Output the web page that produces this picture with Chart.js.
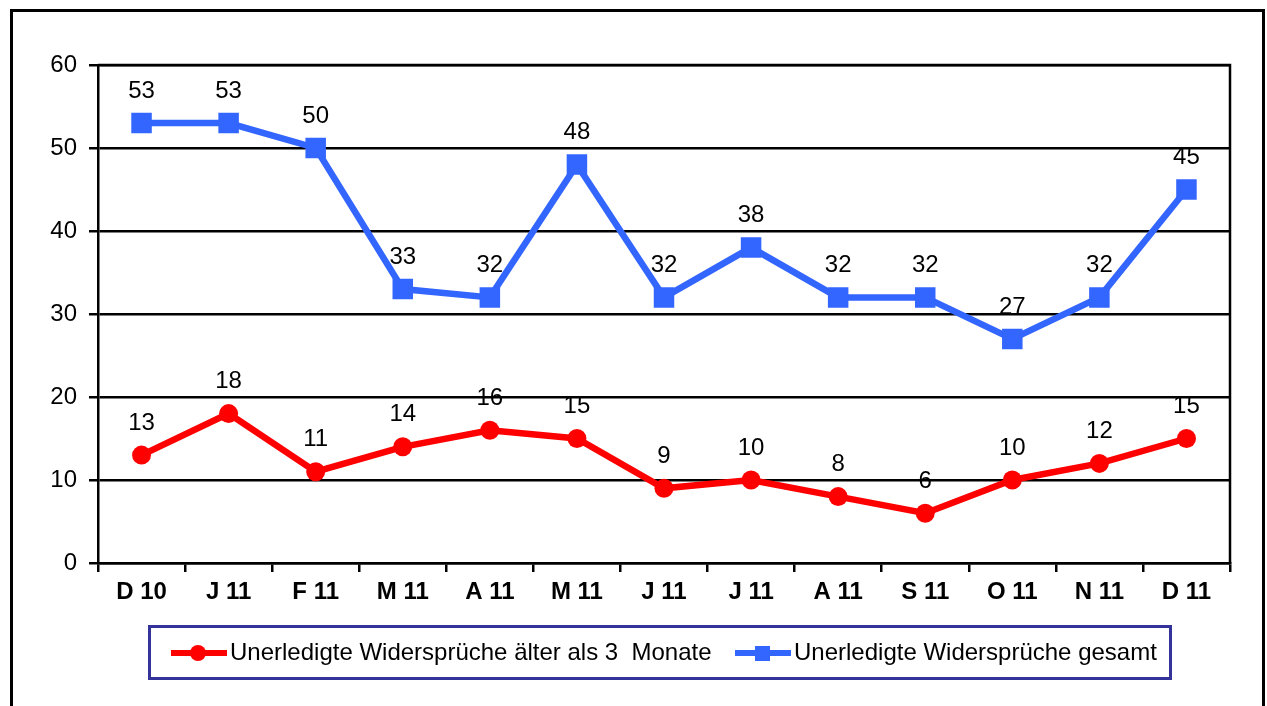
<!DOCTYPE html>
<html>
<head>
<meta charset="utf-8">
<script src="https://cdn.jsdelivr.net/npm/chart.js@4/dist/chart.umd.min.js"></script>
<style>
  html, body { margin: 0; padding: 0; background: #fff; }
  #wrap { width: 1267px; height: 706px; position: relative; }
</style>
</head>
<body>
<div id="wrap"><canvas id="chart" width="1267" height="706"></canvas></div>
<script>
// data
const months = ["D 10", "J 11", "F 11", "M 11", "A 11", "M 11", "J 11", "J 11", "A 11", "S 11", "O 11", "N 11", "D 11"];
const olderThan3 = [13, 18, 11, 14, 16, 15, 9, 10, 8, 6, 10, 12, 15];
const total = [53, 53, 50, 33, 32, 48, 32, 38, 32, 32, 27, 32, 45];
const yTicks = [0, 10, 20, 30, 40, 50, 60];

const FONT = "'Liberation Sans', Arial, sans-serif";

// frame, plot border, value labels and legend box
const decorations = {
  id: "decorations",
  beforeDraw(chart) {
    const ctx = chart.ctx;
    ctx.save();
    ctx.fillStyle = "#fff";
    ctx.fillRect(0, 0, chart.width, chart.height);
    ctx.restore();
  },
  afterDatasetsDraw(chart) {
    const ctx = chart.ctx;
    const a = chart.chartArea;
    ctx.save();
    // plot border (top + right)
    ctx.strokeStyle = "#000";
    ctx.lineWidth = 2.5;
    ctx.beginPath();
    ctx.moveTo(a.left, a.top);
    ctx.lineTo(a.right, a.top);
    ctx.lineTo(a.right, a.bottom);
    ctx.stroke();

    // value labels
    ctx.fillStyle = "#000";
    ctx.font = "24px " + FONT;
    ctx.textAlign = "center";
    ctx.textBaseline = "middle";
    chart.data.datasets.forEach((ds, i) => {
      const meta = chart.getDatasetMeta(i);
      meta.data.forEach((pt, j) => {
        ctx.fillText(String(ds.data[j]), pt.x, pt.y - 32);
      });
    });

    // outer frame
    ctx.lineWidth = 3;
    ctx.strokeRect(11.5, 10.5, 1252, 720);

    // legend
    ctx.strokeStyle = "#333399";
    ctx.lineWidth = 3;
    ctx.strokeRect(149.5, 626.5, 1021, 52);
    const items = [
      { x: 171, ds: chart.data.datasets[0], text: "Unerledigte Widersprüche älter als 3  Monate" },
      { x: 735, ds: chart.data.datasets[1], text: "Unerledigte Widersprüche gesamt" }
    ];
    items.forEach(it => {
      const y = 653;
      ctx.strokeStyle = it.ds.borderColor;
      ctx.lineWidth = 6;
      ctx.beginPath();
      ctx.moveTo(it.x, y);
      ctx.lineTo(it.x + 56, y);
      ctx.stroke();
      ctx.fillStyle = it.ds.borderColor;
      if (it.ds.pointStyle === "rect") {
        ctx.fillRect(it.x + 20, y - 7, 15, 15);
      } else {
        ctx.beginPath();
        ctx.arc(it.x + 27, y, 8, 0, Math.PI * 2);
        ctx.fill();
      }
      ctx.fillStyle = "#000";
      ctx.font = "24px " + FONT;
      ctx.textAlign = "left";
      ctx.textBaseline = "middle";
      ctx.fillText(it.text, it.x + 59, y);
    });
    ctx.restore();
  }
};

new Chart(document.getElementById("chart"), {
  type: "line",
  data: {
    labels: months,
    datasets: [
      {
        label: "Unerledigte Widersprüche älter als 3  Monate",
        data: olderThan3,
        borderColor: "#ff0000",
        backgroundColor: "#ff0000",
        borderWidth: 6.5,
        pointStyle: "circle",
        pointRadius: 9.5,
        pointBorderWidth: 0,
        tension: 0
      },
      {
        label: "Unerledigte Widersprüche gesamt",
        data: total,
        borderColor: "#3366ff",
        backgroundColor: "#3366ff",
        borderWidth: 6.5,
        pointStyle: "rect",
        pointRadius: 14.5,
        pointBorderWidth: 0,
        tension: 0
      }
    ]
  },
  options: {
    responsive: false,
    animation: false,
    devicePixelRatio: 1,
    layout: { padding: { top: 65, right: 37, left: 0, bottom: 0 } },
    plugins: {
      legend: { display: false },
      tooltip: { enabled: false }
    },
    scales: {
      x: {
        offset: true,
        grid: {
          offset: true,
          drawOnChartArea: false,
          drawTicks: true,
          tickLength: 9,
          color: "#000",
          lineWidth: 2.5
        },
        border: { display: true, color: "#000", width: 2.5 },
        ticks: {
          color: "#000",
          font: { family: FONT, size: 24, weight: "bold" },
          padding: 6,
          maxRotation: 0,
          autoSkip: false
        },
        afterFit(scale) { scale.height = 143; }
      },
      y: {
        min: yTicks[0],
        max: yTicks[yTicks.length - 1],
        afterBuildTicks(scale) { scale.ticks = yTicks.map(v => ({ value: v })); },
        grid: {
          color: "#000",
          lineWidth: 2.5,
          drawTicks: true,
          tickLength: 9
        },
        border: { display: true, color: "#000", width: 2.5 },
        ticks: {
          color: "#000",
          font: { family: FONT, size: 24 },
          padding: 12
        },
        afterFit(scale) { scale.width = 98; }
      }
    }
  },
  plugins: [decorations]
});
</script>
</body>
</html>
